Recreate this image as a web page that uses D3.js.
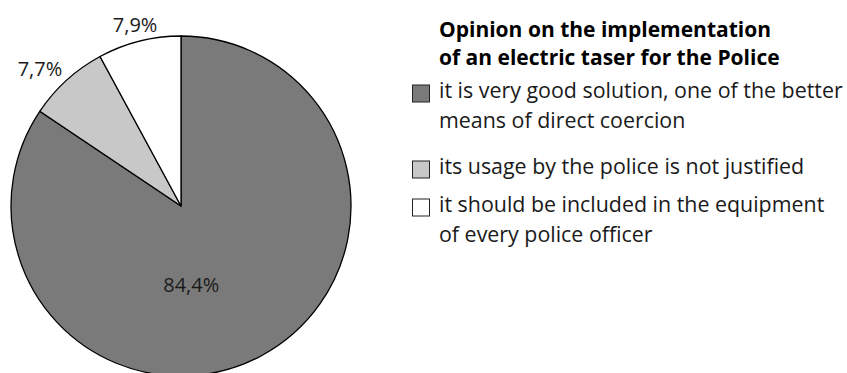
<!DOCTYPE html>
<html>
<head>
<meta charset="utf-8">
<script src="https://cdn.jsdelivr.net/npm/d3@7"></script>
<style>
  body { margin: 0; background: #fff; }
  text { font-family: "Open Sans", "Noto Sans", sans-serif; fill: #1a1a1a; }
</style>
</head>
<body>
<svg id="chart" width="847" height="373"></svg>
<script>
// Survey answers, in drawing order (clockwise from 12 o'clock)
const categories = [
  "it is very good solution, one of the better means of direct coercion",
  "its usage by the police is not justified",
  "it should be included in the equipment of every police officer"
];
const legendLines = [
  ["it is very good solution, one of the better", "means of direct coercion"],
  ["its usage by the police is not justified"],
  ["it should be included in the equipment", "of every police officer"]
];
const values = [84.4, 7.7, 7.9];
const valueLabels = ["84,4%", "7,7%", "7,9%"];
const fills = ["#7a7a7a", "#c8c8c8", "#ffffff"];
const titleLines = ["Opinion on the implementation", "of an electric taser for the Police"];

const svg = d3.select("#chart");

// ---- pie ----
const cx = 181, cy = 206, radius = 170;
const pie = d3.pie().sort(null).value(d => d);
const arcs = pie(values);
const arc = d3.arc().innerRadius(0).outerRadius(radius);

const g = svg.append("g").attr("transform", `translate(${cx},${cy})`);

g.selectAll("path.slice")
  .data(arcs)
  .join("path")
  .attr("class", "slice")
  .attr("d", arc)
  .attr("fill", (d, i) => fills[i])
  .attr("stroke", "#000")
  .attr("stroke-width", 1.3)
  .attr("stroke-linejoin", "miter");

// label placement: large slice inside, small slices outside the rim
const labelRadius = [79, 197, 187];
const labelTurn = [0.36, -0.06, 0.0]; // radians added to the slice mid-angle
function labelPos(d, i) {
  const a = (d.startAngle + d.endAngle) / 2 + labelTurn[i];
  const r = labelRadius[i];
  return [Math.sin(a) * r, -Math.cos(a) * r];
}

g.selectAll("text.value")
  .data(arcs)
  .join("text")
  .attr("class", "value")
  .attr("x", (d, i) => labelPos(d, i)[0])
  .attr("y", (d, i) => labelPos(d, i)[1])
  .attr("dy", "0.36em")
  .attr("text-anchor", "middle")
  .attr("font-size", 20)
  .text((d, i) => valueLabels[i]);

// ---- legend ----
const textX = 439;
const box = 17;
const boxX = 429 - box;
const lineGap = 30;
const firstLineMid = [92, 168, 206]; // vertical middle of each entry's first line

const title = svg.append("text")
  .attr("x", textX)
  .attr("y", 37)
  .attr("font-size", 21)
  .attr("font-weight", 700)
  .style("fill", "#000");
title.selectAll("tspan")
  .data(titleLines)
  .join("tspan")
  .attr("x", textX)
  .attr("dy", (d, i) => i === 0 ? 0 : 28)
  .text(d => d);

const items = svg.selectAll("g.item")
  .data(categories)
  .join("g")
  .attr("class", "item")
  .attr("transform", (d, i) => `translate(0,${firstLineMid[i]})`);

items.append("rect")
  .attr("x", boxX + 0.5)
  .attr("y", -box / 2 + 1.5)
  .attr("width", box)
  .attr("height", box)
  .attr("fill", (d, i) => fills[i])
  .attr("stroke", "#222")
  .attr("stroke-width", 1);

items.each(function (d, i) {
  const t = d3.select(this).append("text")
    .attr("x", textX)
    .attr("y", 0)
    .attr("font-size", 21.4);
  t.selectAll("tspan")
    .data(legendLines[i])
    .join("tspan")
    .attr("x", textX)
    .attr("dy", (s, j) => j === 0 ? "0.3em" : lineGap)
    .text(s => s);
});
</script>
</body>
</html>
